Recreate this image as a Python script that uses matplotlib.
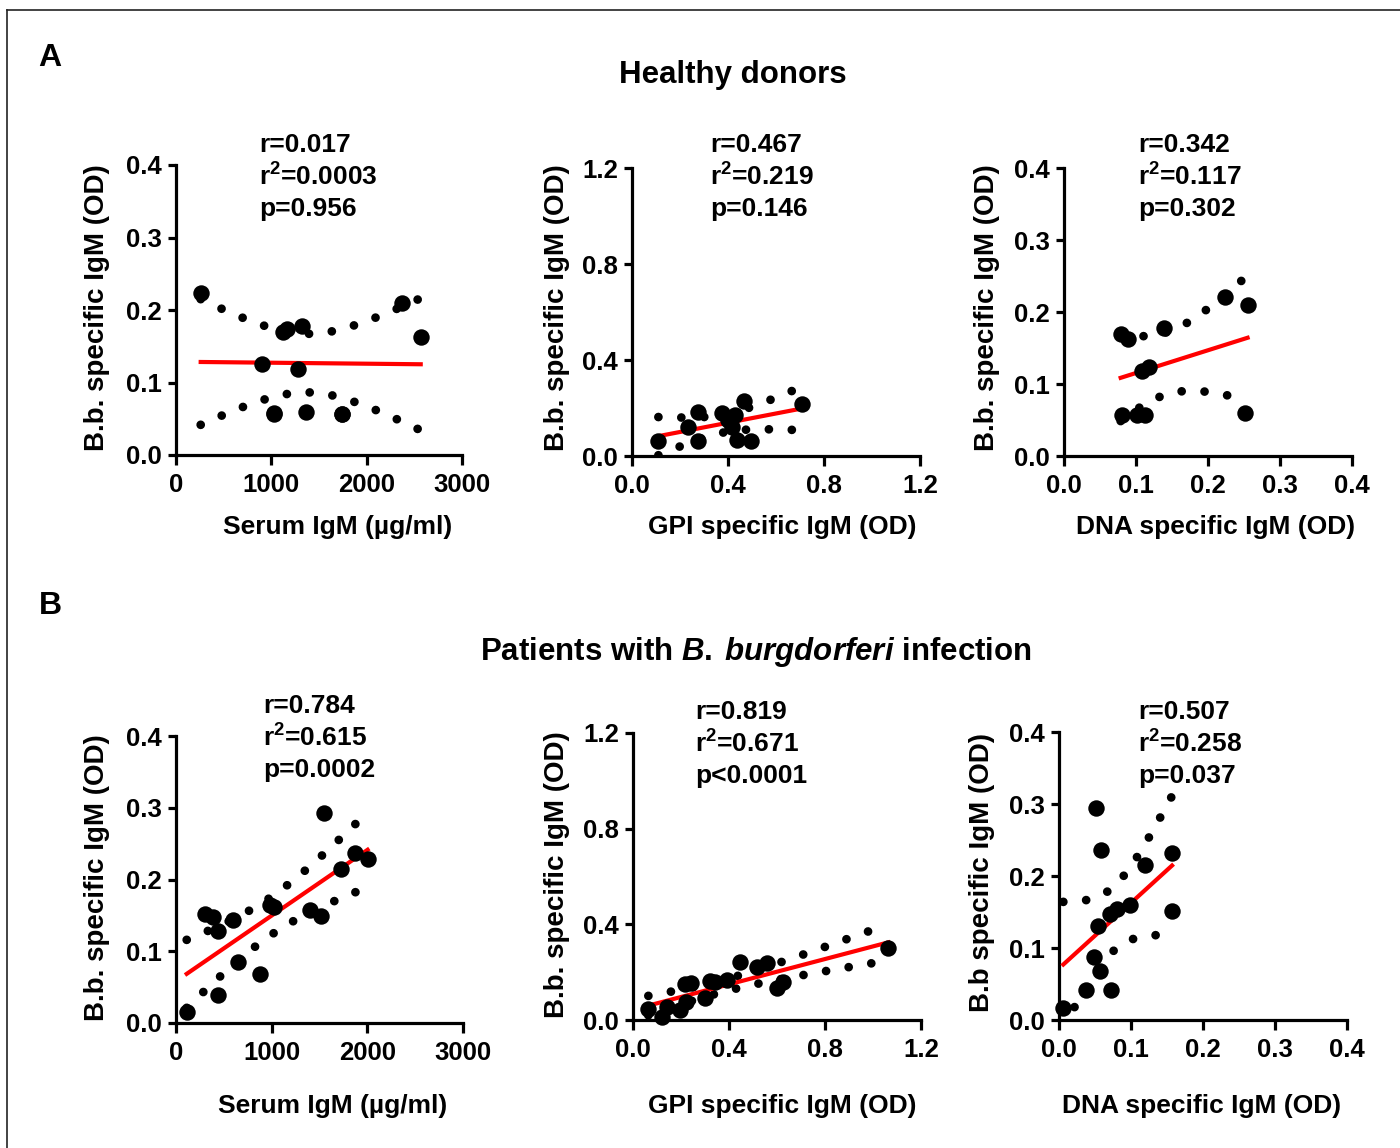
import numpy as np
import matplotlib
matplotlib.use('Agg')
import matplotlib.pyplot as plt
from matplotlib.lines import Line2D
from matplotlib.ticker import FormatStrFormatter

plt.rcParams['font.family'] = ['Liberation Sans', 'DejaVu Sans']
plt.rcParams['font.weight'] = 'bold'
plt.rcParams['lines.scale_dashes'] = False
plt.rcParams['mathtext.fontset'] = 'custom'
plt.rcParams['mathtext.rm'] = 'Liberation Sans:bold'
plt.rcParams['mathtext.it'] = 'Liberation Sans:italic:bold'

# healthy donors
a1_x = [259, 1126, 1160, 1319, 2368, 2567, 905, 1277, 1032, 1361, 1742, 1032, 1742]
a1_y = [0.223, 0.169, 0.174, 0.178, 0.210, 0.163, 0.125, 0.118, 0.0575, 0.060, 0.0566,
        0.057, 0.057]
a2_x = [0.110, 0.235, 0.276, 0.276, 0.376, 0.429, 0.415, 0.436, 0.494, 0.467, 0.708, 0.400]
a2_y = [0.0625, 0.122, 0.185, 0.0625, 0.178, 0.171, 0.122, 0.0667, 0.0625, 0.230, 0.217, 0.150]
a3_x = [0.0787, 0.0893, 0.139, 0.224, 0.255, 0.108, 0.118, 0.081, 0.101, 0.1125, 0.252]
a3_y = [0.169, 0.162, 0.178, 0.221, 0.210, 0.118, 0.124, 0.057, 0.057, 0.057, 0.060]

# patients
b1_x = [112, 442, 651, 878, 303, 390, 436, 599, 1024, 1400, 1515, 1550, 1724, 1870, 2003, 980]
b1_y = [0.0149, 0.039, 0.0854, 0.068, 0.152, 0.148, 0.128, 0.144, 0.161, 0.157, 0.149, 0.293,
        0.214, 0.237, 0.229, 0.165]
b2_x = [0.064, 0.12, 0.14, 0.195, 0.22, 0.216, 0.24, 0.30, 0.32, 0.34, 0.39, 0.446, 0.515,
        0.557, 0.60, 0.626, 1.064]
b2_y = [0.046, 0.014, 0.056, 0.042, 0.077, 0.150, 0.153, 0.091, 0.164, 0.160, 0.167, 0.244,
        0.223, 0.237, 0.132, 0.160, 0.300]
b3_x = [0.006, 0.038, 0.072, 0.057, 0.048, 0.054, 0.071, 0.080, 0.099, 0.051, 0.058, 0.120,
        0.157, 0.157]
b3_y = [0.016, 0.042, 0.041, 0.068, 0.088, 0.131, 0.147, 0.154, 0.160, 0.294, 0.236, 0.215,
        0.232, 0.151]

stats = [
    ['r=0.017', 'r$^2$=0.0003', 'p=0.956'],
    ['r=0.467', 'r$^2$=0.219', 'p=0.146'],
    ['r=0.342', 'r$^2$=0.117', 'p=0.302'],
    ['r=0.784', 'r$^2$=0.615', 'p=0.0002'],
    ['r=0.819', 'r$^2$=0.671', 'p<0.0001'],
    ['r=0.507', 'r$^2$=0.258', 'p=0.037'],
]
ylabels = ['B.b. specific IgM (OD)'] * 5 + ['B.b specific IgM (OD)']
xlabels = ['Serum IgM (µg/ml)', 'GPI specific IgM (OD)', 'DNA specific IgM (OD)'] * 2

# two sided 95% t values by degrees of freedom
t95 = {8: 2.306, 9: 2.262, 10: 2.228, 11: 2.201, 12: 2.179, 13: 2.160, 14: 2.145,
       15: 2.131, 16: 2.120, 17: 2.110, 18: 2.101}

W, H = 1400, 1148
fig = plt.figure(figsize=(W / 100, H / 100), dpi=100)


def box(l, t, r, b):
    return [l / W, 1 - b / H, (r - l) / W, (b - t) / H]


def put(x, y, s, **kw):
    fig.text(x / W, 1 - y / H, s, fontweight='bold', **kw)


# (left, top, right, bottom) in pixels, x ticks, y ticks, formats
panels = [
    (box(176, 165, 462, 455), [0, 1000, 2000, 3000], [0, 0.1, 0.2, 0.3, 0.4], '%d', '%.1f'),
    (box(632, 168, 920, 456), [0, 0.4, 0.8, 1.2], [0, 0.4, 0.8, 1.2], '%.1f', '%.1f'),
    (box(1064, 168, 1352, 456), [0, 0.1, 0.2, 0.3, 0.4], [0, 0.1, 0.2, 0.3, 0.4], '%.1f', '%.1f'),
    (box(176, 736, 463, 1023), [0, 1000, 2000, 3000], [0, 0.1, 0.2, 0.3, 0.4], '%d', '%.1f'),
    (box(633, 733, 921, 1020), [0, 0.4, 0.8, 1.2], [0, 0.4, 0.8, 1.2], '%.1f', '%.1f'),
    (box(1059, 732, 1347, 1020), [0, 0.1, 0.2, 0.3, 0.4], [0, 0.1, 0.2, 0.3, 0.4], '%.1f', '%.1f'),
]
data = [(a1_x, a1_y), (a2_x, a2_y), (a3_x, a3_y), (b1_x, b1_y), (b2_x, b2_y), (b3_x, b3_y)]
stat_pos = [(259, 145), (710, 145), (1138, 145), (263, 706), (695, 712), (1138, 712)]
xlab_pos = [(338, 527), (782, 527), (1216, 527), (333, 1106), (782, 1106), (1202, 1106)]
ylab_pos = [(97, 308), (557, 308), (987, 308), (97, 878), (557, 875), (982, 873)]

for i, (rect, xt, yt, xf, yf) in enumerate(panels):
    ax = fig.add_axes(rect)
    x = np.array(data[i][0], dtype=float)
    y = np.array(data[i][1], dtype=float)
    n = len(x)

    # linear fit and 95% confidence band of the line
    slope, icpt = np.polyfit(x, y, 1)
    xs = np.linspace(x.min(), x.max(), 200)
    fit = icpt + slope * xs
    s = np.sqrt(np.sum((y - (icpt + slope * x)) ** 2) / (n - 2))
    se = s * np.sqrt(1 / n + (xs - x.mean()) ** 2 / np.sum((x - x.mean()) ** 2))
    band = t95[n - 2] * se
    for sign in (1, -1):
        ax.plot(xs, fit + sign * band, color='black', lw=6.3, dashes=(0.01, 16.5),
                dash_capstyle='round', zorder=2)
    ax.plot(xs, fit, color='#ff0000', lw=3, zorder=3, clip_on=False)
    ax.scatter(x, y, s=140, color='black', zorder=4, clip_on=False, linewidths=0)

    ax.set_xlim(xt[0], xt[-1])
    ax.set_ylim(yt[0], yt[-1])
    ax.set_xticks(xt)
    ax.set_yticks(yt)
    ax.xaxis.set_major_formatter(FormatStrFormatter(xf))
    ax.yaxis.set_major_formatter(FormatStrFormatter(yf))
    for side in ['top', 'right']:
        ax.spines[side].set_visible(False)
    for side in ['left', 'bottom']:
        ax.spines[side].set_linewidth(2.3)
    ax.tick_params(axis='both', width=2.3, labelsize=18.5)
    ax.tick_params(axis='y', length=6, pad=4)
    ax.tick_params(axis='x', length=7, pad=6)
    for lab in ax.get_xticklabels() + ax.get_yticklabels():
        lab.set_fontweight('bold')

    put(*xlab_pos[i], xlabels[i], fontsize=19, ha='center', va='center')
    put(*ylab_pos[i], ylabels[i], fontsize=20, ha='center', va='center', rotation=90)
    sx, sy = stat_pos[i]
    for k, line in enumerate(stats[i]):
        put(sx, sy + 32 * k, line, fontsize=19, va='center', ha='left')

put(50, 58, 'A', fontsize=23, ha='center', va='center')
put(50, 606, 'B', fontsize=23, ha='center', va='center')
put(733, 75, 'Healthy donors', fontsize=22.5, ha='center', va='center')
put(756, 652, r'Patients with $\mathit{B.\:burgdorferi}$ infection',
    fontsize=22.5, ha='center', va='center')

# thin frame along top and left edge
fig.add_artist(Line2D([7 / W, 1], [1 - 10 / H, 1 - 10 / H], color='#222222', lw=1.2))
fig.add_artist(Line2D([7 / W, 7 / W], [0, 1 - 10 / H], color='#222222', lw=1.2))

fig.savefig('out.png', dpi=100)
